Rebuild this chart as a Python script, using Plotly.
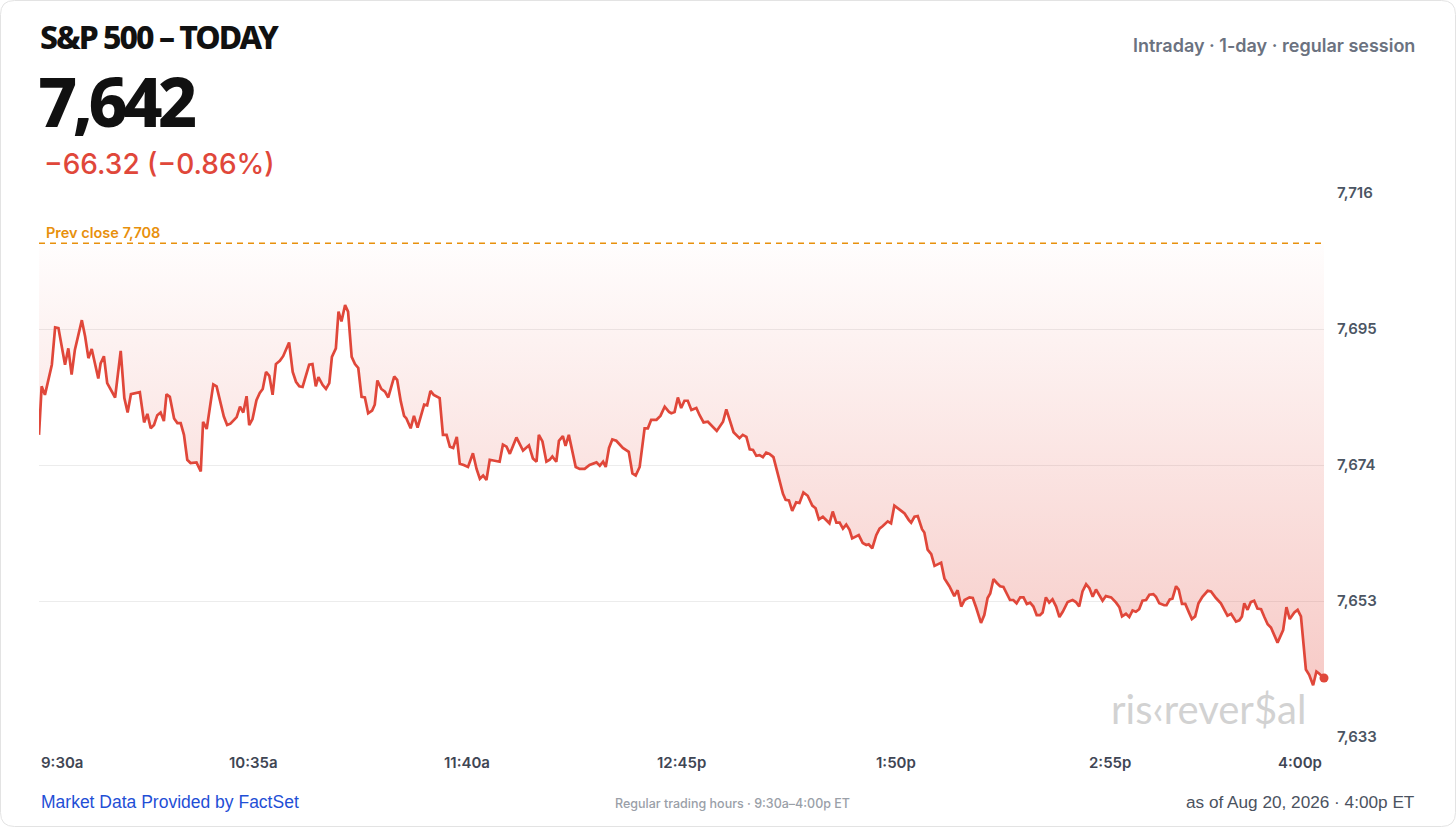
import plotly.graph_objects as go

# ---------------- data ----------------
minutes = [0, 0.8, 1.8, 2.8, 3.9, 4.9, 5.9, 7.9, 8.9, 9.9, 10.9, 13.0, 14.0, 15.0, 16.0, 18.0, 18.7, 19.7, 20.7, 23.1,
           24.8, 25.9, 26.9, 27.9, 30.6, 31.9, 32.9, 33.9, 34.9, 35.9, 36.9, 37.9, 38.7, 39.7, 41.0, 42.0, 43.0, 44.0, 45.0, 46.0,
           47.8, 49.1, 49.8, 50.9, 52.9, 53.9, 56.1, 57.1, 58.1, 60.0, 61.0, 62.0, 63.0, 63.8, 64.8, 66.0, 67.0, 67.9, 68.9, 69.9,
           70.9, 71.9, 73.1, 74.1, 75.9, 77.0, 78.0, 79.0, 80.0, 82.0, 83.0, 84.0, 84.8, 86.1, 87.1, 88.1, 88.9, 90.1, 90.9, 91.8,
           92.9, 93.8, 94.9, 95.9, 96.9, 97.9, 98.9, 99.9, 101.1, 101.9, 102.7, 103.9, 105.0, 106.0, 107.8, 108.7, 109.8, 110.8, 111.5, 112.8,
           113.8, 114.9, 115.9, 116.9, 117.8, 118.8, 119.8, 121.6, 122.6, 123.7, 124.7, 125.7, 126.8, 127.7, 128.9, 130.2, 131.7, 132.8, 133.8, 134.8,
           135.8, 136.8, 139.8, 140.8, 141.9, 142.9, 144.9, 146.9, 148.7, 149.9, 151.0, 151.7, 152.8, 154.0, 155.0, 155.8, 157.0, 157.8, 159.0, 159.8,
           160.8, 162.9, 164.1, 165.6, 167.1, 169.2, 170.2, 171.2, 172.0, 173.0, 174.0, 175.2, 177.2, 179.0, 180.1, 181.1, 182.3, 183.8, 184.8, 185.8,
           187.4, 188.6, 189.9, 191.2, 191.9, 192.9, 193.9, 194.9, 195.9, 196.9, 198.0, 199.5, 200.5, 201.7, 203.0, 205.7, 207.6, 208.6, 209.6, 210.8,
           212.6, 213.6, 214.7, 215.7, 216.7, 217.7, 218.7, 219.7, 220.7, 221.7, 222.9, 225.8, 226.6, 227.6, 228.6, 229.8, 230.8, 232.0, 233.3, 234.7,
           235.7, 236.7, 237.9, 239.9, 240.9, 242.0, 243.0, 244.0, 245.0, 246.0, 246.8, 248.8, 250.0, 251.1, 251.8, 252.9, 254.1, 255.1, 256.1, 257.6,
           258.6, 259.6, 261.7, 262.7, 264.0, 264.7, 265.7, 266.7, 268.0, 268.7, 269.7, 270.8, 271.8, 273.8, 274.8, 276.3, 277.8, 278.8, 279.9, 280.9,
           282.4, 283.4, 284.4, 285.9, 286.9, 287.9, 288.7, 289.7, 290.7, 291.7, 292.7, 293.7, 294.7, 295.7, 296.7, 297.8, 298.8, 299.8, 300.8, 301.8,
           302.8, 303.8, 304.6, 305.6, 306.6, 307.6, 308.7, 309.7, 310.7, 312.2, 313.7, 314.7, 315.7, 316.7, 317.8, 318.8, 319.8, 320.8, 322.8, 323.8,
           325.4, 326.9, 327.9, 328.7, 329.9, 330.9, 331.9, 332.9, 333.9, 334.9, 336.0, 337.0, 338.2, 339.0, 340.0, 341.5, 342.2, 343.2, 344.0, 345.1,
           345.9, 346.9, 347.9, 349.1, 349.9, 350.9, 351.9, 353.1, 354.7, 355.7, 357.2, 358.7, 360.0, 360.7, 361.8, 363.3, 364.3, 365.1, 365.8, 366.8,
           367.8, 368.8, 369.8, 370.9, 371.9, 372.9, 373.9, 375.9, 377.6, 378.6, 379.6, 381.0, 382.0, 383.0, 384.5, 385.5, 386.7, 387.7, 388.5, 390.0]

prices = [7679.1, 7686.5, 7685.2, 7687.2, 7689.8, 7695.5, 7695.4, 7689.8, 7692.3, 7688.3, 7692.1, 7696.6, 7694.1, 7690.8, 7692.2, 7687.7, 7690.0, 7691.1, 7687.0, 7684.8,
          7691.9, 7684.7, 7682.5, 7685.3, 7685.6, 7681.0, 7682.3, 7680.1, 7680.6, 7682.1, 7682.5, 7681.2, 7685.3, 7684.9, 7681.6, 7680.9, 7680.9, 7679.1, 7675.3, 7674.8,
          7674.9, 7673.5, 7681.1, 7680.0, 7686.8, 7686.5, 7681.9, 7680.6, 7680.8, 7681.8, 7683.4, 7682.5, 7685.0, 7680.6, 7681.5, 7684.4, 7685.5, 7686.1, 7688.7, 7688.1,
          7685.2, 7689.9, 7690.4, 7691.1, 7693.2, 7688.7, 7687.2, 7686.5, 7686.4, 7689.8, 7689.9, 7686.5, 7687.9, 7686.7, 7686.1, 7687.0, 7691.0, 7692.3, 7697.9, 7696.4,
          7698.9, 7697.9, 7691.0, 7689.9, 7689.3, 7684.9, 7684.8, 7682.4, 7682.8, 7683.7, 7687.4, 7686.1, 7685.7, 7684.8, 7688.0, 7687.5, 7684.2, 7682.0, 7681.6, 7680.1,
          7682.0, 7680.2, 7681.9, 7683.7, 7683.6, 7685.8, 7685.2, 7684.7, 7679.1, 7679.1, 7677.3, 7677.1, 7678.8, 7674.7, 7674.5, 7674.2, 7676.3, 7673.9, 7672.4, 7672.9,
          7672.2, 7675.3, 7675.0, 7677.6, 7677.3, 7676.2, 7678.7, 7676.7, 7677.5, 7675.5, 7675.0, 7679.1, 7678.1, 7675.0, 7675.3, 7675.8, 7675.0, 7678.2, 7678.9, 7677.4,
          7679.1, 7674.2, 7673.9, 7673.9, 7674.5, 7674.9, 7674.4, 7675.0, 7674.2, 7677.1, 7678.4, 7678.2, 7677.1, 7676.5, 7673.2, 7672.9, 7674.2, 7680.1, 7680.1, 7681.4,
          7681.4, 7682.0, 7683.4, 7682.6, 7682.4, 7682.6, 7684.8, 7683.2, 7684.3, 7684.3, 7682.9, 7683.2, 7682.1, 7681.0, 7681.1, 7679.7, 7681.1, 7683.0, 7681.4, 7679.5,
          7678.6, 7679.1, 7678.8, 7676.9, 7676.8, 7675.9, 7676.0, 7675.7, 7676.4, 7676.2, 7675.7, 7670.1, 7669.2, 7669.1, 7667.5, 7668.8, 7668.7, 7670.3, 7669.8, 7668.3,
          7667.9, 7666.2, 7666.6, 7665.6, 7667.4, 7665.7, 7665.7, 7664.8, 7665.4, 7664.6, 7663.3, 7663.8, 7662.6, 7662.3, 7662.4, 7661.8, 7663.8, 7664.8, 7665.2, 7665.9,
          7665.6, 7668.3, 7667.5, 7667.1, 7666.1, 7665.7, 7666.6, 7666.7, 7664.7, 7664.2, 7661.6, 7660.9, 7659.1, 7659.6, 7657.2, 7656.0, 7654.5, 7655.4, 7652.9, 7653.9,
          7654.3, 7654.2, 7652.8, 7650.4, 7651.6, 7654.2, 7654.9, 7657.1, 7656.5, 7656.0, 7655.9, 7654.9, 7653.9, 7653.9, 7653.4, 7654.3, 7654.3, 7653.3, 7653.5, 7652.9,
          7651.6, 7651.6, 7652.0, 7654.3, 7653.5, 7654.0, 7652.9, 7651.3, 7652.1, 7653.6, 7653.9, 7653.6, 7652.9, 7655.2, 7656.3, 7655.7, 7654.4, 7655.5, 7653.8, 7654.5,
          7654.3, 7653.5, 7652.8, 7651.4, 7651.8, 7651.3, 7652.3, 7652.1, 7652.5, 7653.8, 7653.9, 7654.7, 7654.8, 7654.4, 7653.4, 7653.1, 7653.1, 7654.0, 7654.1, 7656.0,
          7655.5, 7653.3, 7653.3, 7651.9, 7651.0, 7651.4, 7653.4, 7654.4, 7655.3, 7655.2, 7654.2, 7653.4, 7652.0, 7651.5, 7651.8, 7650.6, 7650.8, 7651.4, 7653.4, 7652.4,
          7653.6, 7653.8, 7652.6, 7652.5, 7651.3, 7650.2, 7649.7, 7647.4, 7649.3, 7652.8, 7651.0, 7652.0, 7652.4, 7651.4, 7643.3, 7642.5, 7640.9, 7643.0, 7642.7, 7642.0]

prev_close = 7708.32
last_price = 7642.0
change = -66.32
change_pct = -0.86

y_tick_vals = [7633, 7653.75, 7674.5, 7695.25, 7716]
y_tick_text = ["7,633", "7,653", "7,674", "7,695", "7,716"]
x_tick_vals = [0, 65, 130, 195, 260, 325, 390]
x_tick_text = ["9:30a", "10:35a", "11:40a", "12:45p", "1:50p", "2:55p", "4:00p"]

# ---------------- layout geometry ----------------
W, H = 1456, 827
L, R, T, B = 39, 1324, 193, 737
PW, PH = R - L, B - T


def px(x):
    return (x - L) / PW


def py(y):
    return (B - y) / PH


RED = "#e0473a"
ORANGE = "#e8900c"
UI_FONT = "Inter, Noto Sans, sans-serif"
HEAD_FONT = "Noto Sans, DejaVu Sans, sans-serif"

fig = go.Figure()

# base for the gradient fill: prev close level
fig.add_trace(go.Scatter(
    x=[x_tick_vals[0], x_tick_vals[-1]], y=[prev_close, prev_close],
    mode="lines", line=dict(width=0, color="rgba(0,0,0,0)"),
    hoverinfo="skip", showlegend=False))

fig.add_trace(go.Scatter(
    x=minutes, y=prices, mode="lines",
    line=dict(color=RED, width=2.7, shape="linear"),
    fill="tonexty",
    fillgradient=dict(type="vertical",
                      colorscale=[[0, "rgba(226,71,58,0.28)"], [1, "rgba(226,71,58,0.01)"]],
                      start=last_price, stop=prev_close),
    showlegend=False, hoverinfo="x+y"))

fig.add_trace(go.Scatter(
    x=[minutes[-1]], y=[last_price], mode="markers", cliponaxis=False,
    marker=dict(color=RED, size=9), showlegend=False, hoverinfo="skip"))

# prev close dashed line
fig.add_shape(type="line", xref="x", yref="y", x0=x_tick_vals[0], x1=x_tick_vals[-1],
              y0=prev_close, y1=prev_close,
              line=dict(color=ORANGE, width=1.5, dash="6px,5px"))

# card border (rounded)
r = 14
x0c, x1c, y0c, y1c = 0.5, W - 0.5, 0.5, H - 0.5
path = (f"M {px(x0c + r)},{py(y0c)} L {px(x1c - r)},{py(y0c)} Q {px(x1c)},{py(y0c)} {px(x1c)},{py(y0c + r)} "
        f"L {px(x1c)},{py(y1c - r)} Q {px(x1c)},{py(y1c)} {px(x1c - r)},{py(y1c)} "
        f"L {px(x0c + r)},{py(y1c)} Q {px(x0c)},{py(y1c)} {px(x0c)},{py(y1c - r)} "
        f"L {px(x0c)},{py(y0c + r)} Q {px(x0c)},{py(y0c)} {px(x0c + r)},{py(y0c)} Z")
fig.add_shape(type="path", xref="paper", yref="paper", path=path,
              line=dict(color="#e3e3e3", width=1), fillcolor="rgba(0,0,0,0)", layer="below")

annotations = []
# x tick labels as annotations so the ends can be anchored inward
for i, (v, t) in enumerate(zip(x_tick_vals, x_tick_text)):
    anchor = "left" if i == 0 else ("right" if i == len(x_tick_vals) - 1 else "center")
    annotations.append(dict(x=v, y=py(762), xref="x", yref="paper", text=t, showarrow=False,
                            xanchor=anchor, yanchor="middle",
                            font=dict(family=UI_FONT, size=15, color="#3f4654", weight=600)))

title_txt = '<span style="letter-spacing:-2px">S&P 500 – TODAY</span>'
price_txt = f'<span style="letter-spacing:-4.5px">{last_price:,.0f}</span>'

annotations += [
    dict(x=px(38), y=py(37), xref="paper", yref="paper", text=title_txt, showarrow=False,
         xanchor="left", yanchor="middle",
         font=dict(family=HEAD_FONT, size=32, color="#111111", weight=800)),
    dict(x=px(36), y=py(101), xref="paper", yref="paper", text=price_txt, showarrow=False,
         xanchor="left", yanchor="middle",
         font=dict(family=HEAD_FONT, size=68, color="#111111", weight=800)),
    dict(x=px(42), y=py(164), xref="paper", yref="paper",
         text=f"\u2212{abs(change):.2f} (\u2212{abs(change_pct):.2f}%)", showarrow=False,
         xanchor="left", yanchor="middle",
         font=dict(family=UI_FONT, size=28, color=RED, weight=500)),
    dict(x=px(1417), y=py(46), xref="paper", yref="paper", text="Intraday · 1-day · regular session",
         showarrow=False, xanchor="right", yanchor="middle",
         font=dict(family=UI_FONT, size=18, color="#6b7280", weight=600)),
    dict(x=px(44), y=py(233), xref="paper", yref="paper", text=f"Prev close {prev_close:,.0f}",
         showarrow=False, xanchor="left", yanchor="middle",
         font=dict(family=UI_FONT, size=14.5, color=ORANGE, weight=600)),
    dict(x=px(1308), y=py(709), xref="paper", yref="paper", text="ris‹rever$al",
         showarrow=False, xanchor="right", yanchor="middle",
         font=dict(family="Lato, Inter, sans-serif", size=40, color="#d2d2d2", weight=400)),
    dict(x=px(39), y=py(802), xref="paper", yref="paper", text="Market Data Provided by FactSet",
         showarrow=False, xanchor="left", yanchor="middle",
         font=dict(family="Liberation Sans, Arial, sans-serif", size=17.5, color="#1f4fd6")),
    dict(x=px(732), y=py(803), xref="paper", yref="paper", text="Regular trading hours · 9:30a–4:00p ET",
         showarrow=False, xanchor="center", yanchor="middle",
         font=dict(family=UI_FONT, size=12.5, color="#9aa0a8", weight=500)),
    dict(x=px(1417), y=py(802), xref="paper", yref="paper", text="as of Aug 20, 2026 · 4:00p ET",
         showarrow=False, xanchor="right", yanchor="middle",
         font=dict(family="Liberation Sans, Arial, sans-serif", size=17.2, color="#4b5260")),
]

fig.update_layout(
    width=W, height=H, autosize=False,
    margin=dict(l=L, r=W - R, t=T, b=H - B, pad=0),
    paper_bgcolor="white", plot_bgcolor="white",
    showlegend=False,
    annotations=annotations,
    xaxis=dict(range=[x_tick_vals[0], x_tick_vals[-1]], showgrid=False, zeroline=False,
               showticklabels=False, showline=False, fixedrange=True),
    yaxis=dict(range=[y_tick_vals[0], y_tick_vals[-1]], side="right", tickvals=y_tick_vals,
               ticktext=y_tick_text, showgrid=True, gridcolor="#ececec", gridwidth=1,
               zeroline=False, showline=False, ticks="", ticklabelstandoff=12,
               tickfont=dict(family=UI_FONT, size=15, color="#4b5563", weight=600), fixedrange=True),
)

fig.write_html("out.html", config={"displayModeBar": False},
               post_script="document.body.style.margin='0';document.documentElement.style.overflow='hidden';")
